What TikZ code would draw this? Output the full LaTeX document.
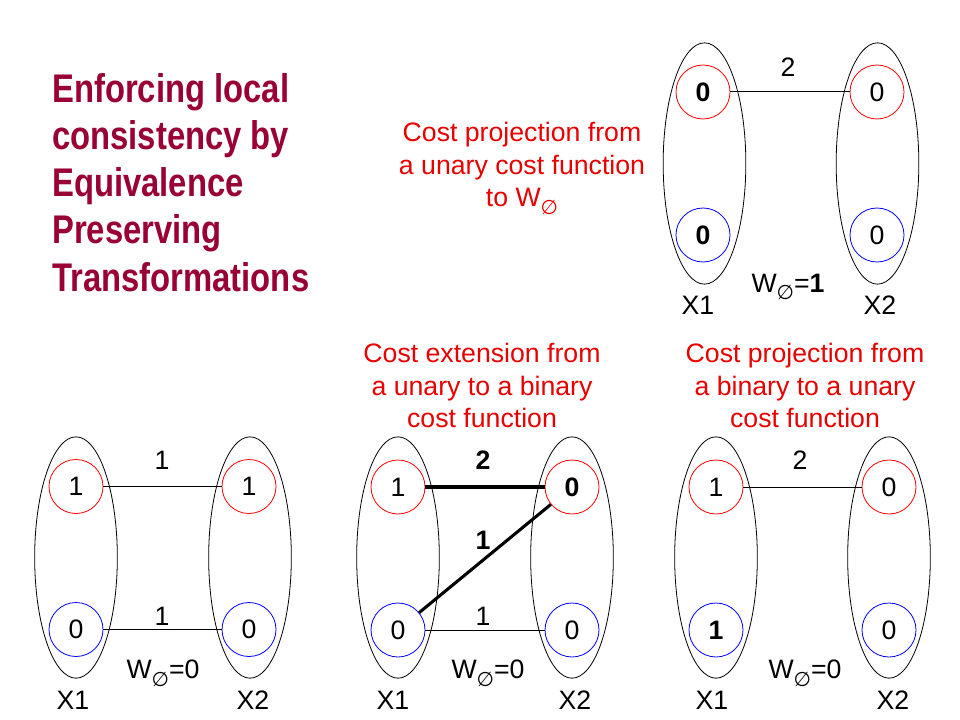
\documentclass[tikz,border=0pt]{standalone}
\usepackage{fontspec}
\setmainfont{Liberation Sans}
\newfontfamily\titlefont[FakeStretch=0.82]{Liberation Sans}
\newfontfamily\symfont{DejaVu Sans}
\usetikzlibrary{shapes.geometric}
\definecolor{titlered}{RGB}{153,0,51}
\definecolor{capred}{RGB}{232,0,0}
\newcommand{\Wempty}{W\raisebox{-0.55ex}{\symfont\fontsize{15}{15}\selectfont ∅}}
\begin{document}
\begin{tikzpicture}[x=0.75pt,y=-0.75pt,
  font=\fontsize{20}{24}\selectfont,
  var/.style={draw=black, line width=0.6pt, ellipse, minimum width=62pt, minimum height=181pt, inner sep=0},
  valr/.style={draw=red, line width=0.6pt, circle, minimum size=40.5pt, inner sep=0},
  valb/.style={draw=blue, line width=0.6pt, circle, minimum size=40.5pt, inner sep=0},
  link/.style={draw=black, line width=0.75pt},
  heavylink/.style={draw=black, line width=2.3pt},
  lbl/.style={inner sep=0},
  caption/.style={text=capred, align=center, anchor=north, inner sep=0, font=\fontsize{20}{24.4}\selectfont}
]
\useasboundingbox (0,0) rectangle (960,720);

% Title
\node[anchor=north west, inner sep=0, align=left, text=titlered,
  font=\titlefont\bfseries\fontsize{30}{35.4}\selectfont] (title) at (52,73)
  {Enforcing local\\consistency by\\Equivalence\\Preserving\\Transformations};

% Captions
\node[caption] (capD) at (522,122) {Cost projection from\\a unary cost function\\to \Wempty};
\node[caption] (capB) at (482,343) {Cost extension from\\a unary to a binary\\cost function};
\node[caption] (capC) at (805,343) {Cost projection from\\a binary to a unary\\cost function};

% ---------- Graph D (top right) ----------
\node[var] (dx1) at (704.5,163.5) {};
\node[var] (dx2) at (877.5,163.5) {};
\node[valr] (da) at (703,92) {\bfseries 0};
\node[valb] (db) at (703,235) {\bfseries 0};
\node[valr] (dc) at (877,92) {0};
\node[valb] (dd) at (877,235) {0};
\draw[link] (da) -- (dc);
\node[lbl] (dw1) at (788,67) {2};
\node[lbl] (dW) at (788,287) {\Wempty=\textbf{1}};
\node[lbl] (dX1) at (698,305) {X1};
\node[lbl] (dX2) at (880,305) {X2};

% ---------- Graph A (bottom left) ----------
\node[var] (ax1) at (76,557.5) {};
\node[var] (ax2) at (250,557.5) {};
\node[valr] (aa) at (76,486.5) {1};
\node[valb] (ab) at (76,629.5) {0};
\node[valr] (ac) at (249,486.5) {1};
\node[valb] (ad) at (249,629.5) {0};
\draw[link] (aa) -- (ac);
\draw[link] (ab) -- (ad);
\node[lbl] (aw1) at (162,460) {1};
\node[lbl] (aw2) at (162,616) {1};
\node[lbl] (aW) at (163,673) {\Wempty=0};
\node[lbl] (aX1) at (73,700) {X1};
\node[lbl] (aX2) at (253,700) {X2};

% ---------- Graph B (bottom middle) ----------
\node[var] (bx1) at (398,557.5) {};
\node[var] (bx2) at (572,557.5) {};
\node[valr] (ba) at (398,487) {1};
\node[valb] (bb) at (398,630) {0};
\node[valr] (bc) at (572,487) {\bfseries 0};
\node[valb] (bd) at (572,630) {0};
\draw[heavylink] (ba) -- (bc);
\draw[heavylink] (bb) -- (bc);
\draw[link] (bb) -- (bd);
\node[lbl] (bw1) at (483,460) {\bfseries 2};
\node[lbl] (bw2) at (483,540) {\bfseries 1};
\node[lbl] (bw3) at (483,616) {1};
\node[lbl] (bW) at (488,673) {\Wempty=0};
\node[lbl] (bX1) at (393,700) {X1};
\node[lbl] (bX2) at (575,700) {X2};

% ---------- Graph C (bottom right) ----------
\node[var] (cx1) at (716,557.5) {};
\node[var] (cx2) at (889,557.5) {};
\node[valr] (ca) at (716,487) {1};
\node[valb] (cb) at (716,630) {\bfseries 1};
\node[valr] (cc) at (889,487) {0};
\node[valb] (cd) at (889,630) {0};
\draw[link] (ca) -- (cc);
\node[lbl] (cw1) at (800,460) {2};
\node[lbl] (cW) at (805,673) {\Wempty=0};
\node[lbl] (cX1) at (712,700) {X1};
\node[lbl] (cX2) at (893,700) {X2};
\end{tikzpicture}
\end{document}
